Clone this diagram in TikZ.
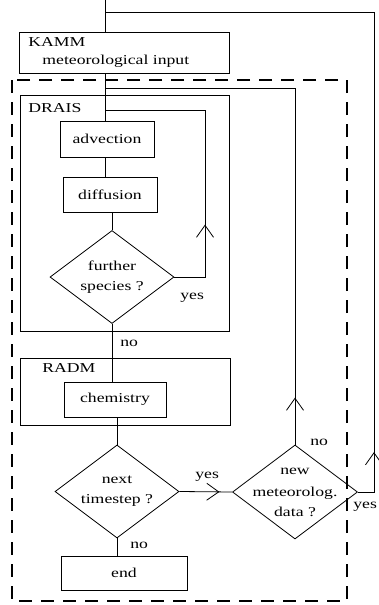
\documentclass[tikz,border=0pt]{standalone}
\usepackage{fontspec}
\setmainfont{Liberation Serif}[FakeStretch=1.3]
\usetikzlibrary{shapes.geometric,arrows.meta,decorations.markings}

\tikzset{
  box/.style={draw, rectangle, inner sep=0pt},
  dec/.style={draw, diamond, inner sep=0pt, minimum width=124pt, minimum height=93pt},
  txt/.style={inner sep=0pt, align=center},
  lbl/.style={inner sep=0pt, anchor=base west},
  barbmark/.style={postaction={decorate}, decoration={markings,
    mark=at position #1 with {\arrow{Straight Barb[length=12pt,width=17pt,line width=0.8pt]}}}},
}

\begin{document}
\begin{tikzpicture}[x=1pt, y=-1pt, line width=0.8pt, font=\fontsize{13.6}{20}\selectfont]
	\useasboundingbox (0,0) rectangle (378,605);

	% dashed frame
	\draw[line width=2.7pt, dash pattern=on 13pt off 9pt] (12,80) rectangle (347,601);

	% boxes
	\node[box, minimum width=210pt, minimum height=41pt] (kamm) at (124,52.5) {};
	\node[lbl] (tkamm) at (28,46) {KAMM};
	\node[lbl] (tmet) at (42,64) {meteorological input};

	\node[box, minimum width=209pt, minimum height=236pt] (drais) at (124.5,213) {};
	\node[lbl] (tdrais) at (28,112) {DRAIS};
	\node[box, minimum width=94pt, minimum height=36pt] (adv) at (107,139) {advection};
	\node[box, minimum width=94pt, minimum height=35pt] (diff) at (110,194.5) {diffusion};
	\node[dec, label={[txt]center:further\\species ?}] (further) at (112,277) {};

	\node[box, minimum width=210pt, minimum height=67pt] (radm) at (125,391.5) {};
	\node[lbl] (tradm) at (42,372) {RADM};
	\node[box, minimum width=102pt, minimum height=35pt] (chem) at (115,399.5) {chemistry};

	\node[dec, label={[txt]center:next\\timestep ?}] (next) at (117,491.5) {};
	\node[dec, minimum width=125pt, minimum height=94pt,
		label={[txt]center:new\\[2pt]meteorolog.\\data ?}] (newmet) at (295,492) {};
	\node[box, minimum width=126pt, minimum height=34pt] (end) at (124,573) {end};

	% connectors
	\coordinate (top) at (105,0);
	\coordinate (back) at (374,12);
	\coordinate (loop) at (205,110);
	\coordinate (ret) at (295,88);

	\draw (top) -- (top |- kamm.north);
	\draw (top |- kamm.south) -- (top |- adv.north);
	\draw (top |- adv.south) -- (top |- diff.north);
	\draw (further.north |- diff.south) -- (further.north);
	\draw[barbmark=83pt] (further.east) -| (loop) -- (top |- loop);
	\draw (further.south) -- (further.south |- chem.north);
	\draw (next.north |- chem.south) -- (next.north);
	\draw (next.south) -- (next.south |- end.north);
	\draw[barbmark=40pt] (next.east) -- (newmet.west);
	\draw[barbmark=47pt] (newmet.north) -- (newmet.north |- ret) -- (top |- ret);
	\draw[barbmark=56pt] (newmet.east) -| (back) -- (top |- back);

	% labels
	\node[lbl] (lyes1) at (180,299) {yes};
	\node[lbl] (lno1) at (120,346) {no};
	\node[lbl] (lyes2) at (195,478) {yes};
	\node[lbl] (lno2) at (310,445) {no};
	\node[lbl] (lno3) at (130,548) {no};
	\node[lbl] (lyes3) at (353,508) {yes};
\end{tikzpicture}
\end{document}
